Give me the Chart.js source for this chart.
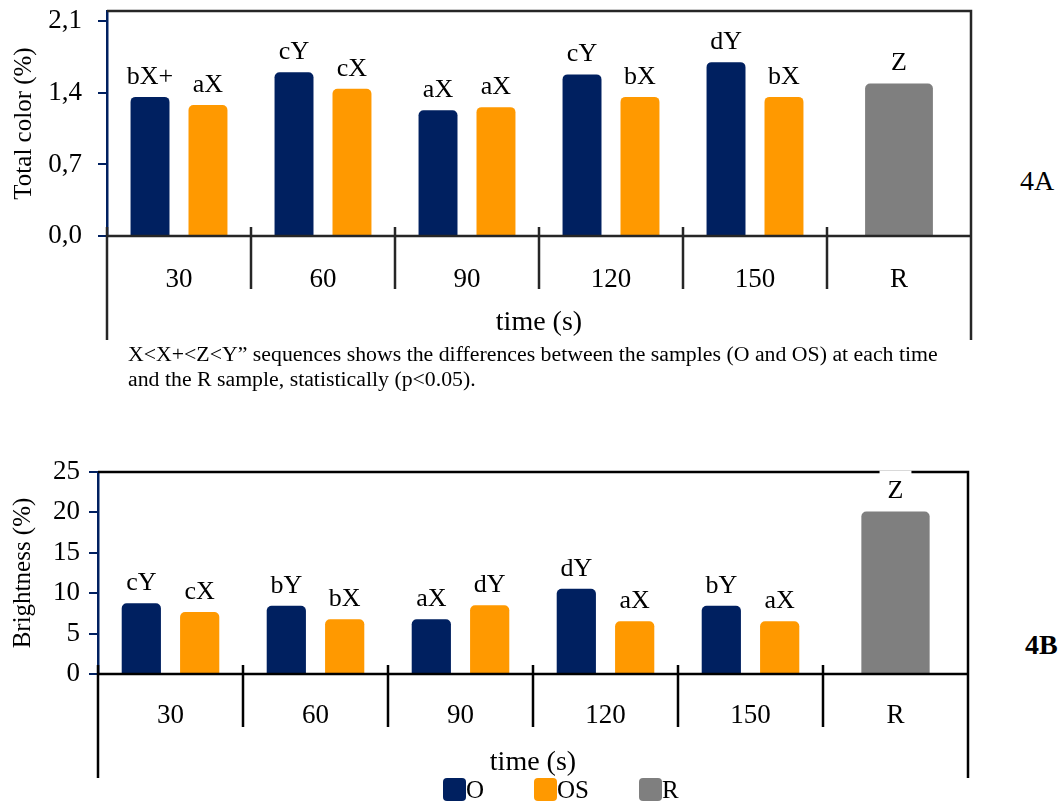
<!DOCTYPE html>
<html>
<head>
<meta charset="utf-8">
<script src="https://cdn.jsdelivr.net/npm/chart.js@4.4.1/dist/chart.umd.min.js"></script>
<style>
  body { margin: 0; background: #fff; width: 1059px; height: 804px; position: relative; overflow: hidden;
         font-family: 'Liberation Serif', 'Times New Roman', serif; color: #000; }
  .quadro { position: absolute; left: 0; width: 1000px; }
  #quadroA { top: 0; height: 345px; }
  #quadroB { top: 460px; height: 344px; }
  .rotulo { position: absolute; font-size: 28px; line-height: 28px; }
  #rotA { left: 1020px; top: 167px; }
  #rotB { left: 1025px; top: 631px; font-weight: bold; }
  #nota { position: absolute; left: 128px; top: 342px; font-size: 20px; line-height: 25px;
          white-space: nowrap; transform: scaleX(1.09); transform-origin: 0 0; }
  #legenda { position: absolute; left: 443px; top: 778px; display: flex; font-size: 25px; line-height: 23px; }
  .item { display: flex; align-items: center; margin-right: 50px; }
  .cor { width: 23px; height: 23px; border-radius: 4px; }
</style>
</head>
<body>
<div class="quadro" id="quadroA"><canvas id="graficoCor" width="1000" height="345"></canvas></div>
<div class="rotulo" id="rotA">4A</div>
<div id="nota">X&lt;X+&lt;Z&lt;Y” sequences shows the differences between the samples (O and OS) at each time<br>and the R sample, statistically (p&lt;0.05).</div>
<div class="quadro" id="quadroB"><canvas id="graficoBrilho" width="1000" height="344"></canvas></div>
<div class="rotulo" id="rotB">4B</div>
<div id="legenda">
  <div class="item"><span class="cor" style="background:#002060"></span>O</div>
  <div class="item"><span class="cor" style="background:#ff9900"></span>OS</div>
  <div class="item"><span class="cor" style="background:#7f7f7f"></span>R</div>
</div>

<script>
const tempos = ['30', '60', '90', '120', '150', 'R'];

// 4A - cor total (%)
const corO  = [1.36, 1.60, 1.23, 1.58, 1.70, null];
const corOS = [1.28, 1.44, 1.26, 1.36, 1.36, null];
const corR  = [null, null, null, null, null, 1.49];
const letrasCorO  = ['bX+', 'cY', 'aX', 'cY', 'dY', ''];
const letrasCorOS = ['aX', 'cX', 'aX', 'bX', 'bX', ''];
const letrasCorR  = ['', '', '', '', '', 'Z'];
const ticksCor = [0, 0.7, 1.4, 2.1];

// 4B - brilho (%)
const brilhoO  = [8.75, 8.45, 6.77, 10.56, 8.45, null];
const brilhoOS = [7.67, 6.77, 8.50, 6.52, 6.52, null];
const brilhoR  = [null, null, null, null, null, 20.1];
const letrasBrilhoO  = ['cY', 'bY', 'aX', 'dY', 'bY', ''];
const letrasBrilhoOS = ['cX', 'bX', 'dY', 'aX', 'aX', ''];
const letrasBrilhoR  = ['', '', '', '', '', 'Z'];

const AZUL = '#002060';
const LARANJA = '#ff9900';
const CINZA = '#7f7f7f';
const FONTE = "'Liberation Serif', 'Times New Roman', serif";

// moldura: eixo x, bordas, divisorias entre tempos e letras acima das barras
const moldura = {
  id: 'moldura',
  afterDraw(chart, args, opts) {
    const ctx = chart.ctx;
    const a = chart.chartArea;
    const x = chart.scales.x;
    const fundo = a.bottom + opts.extensao;
    ctx.save();
    ctx.strokeStyle = opts.cor;
    ctx.lineWidth = 2.5;
    ctx.beginPath();
    // topo e lado direito
    ctx.moveTo(a.left, a.top);
    ctx.lineTo(a.right, a.top);
    ctx.lineTo(a.right, fundo);
    // eixo x
    ctx.moveTo(a.left, a.bottom);
    ctx.lineTo(a.right, a.bottom);
    // prolongamento esquerdo
    ctx.moveTo(a.left, a.bottom - 9);
    ctx.lineTo(a.left, fundo);
    // divisorias entre categorias
    for (let i = 1; i < tempos.length; i++) {
      const px = (x.getPixelForValue(i - 1) + x.getPixelForValue(i)) / 2;
      ctx.moveTo(px, a.bottom - 9);
      ctx.lineTo(px, a.bottom + 53);
    }
    ctx.stroke();

    // letras de significancia
    ctx.font = '26px ' + FONTE;
    ctx.textAlign = 'center';
    ctx.textBaseline = 'middle';
    chart.data.datasets.forEach((ds, i) => {
      chart.getDatasetMeta(i).data.forEach((barra, j) => {
        const txt = ds.letras[j];
        if (!txt) return;
        const ty = barra.y - 20;
        const w = ctx.measureText(txt).width + 16;
        ctx.fillStyle = '#fff';
        ctx.fillRect(barra.x - w / 2, ty - 21, w, 33);
        ctx.fillStyle = '#000';
        ctx.fillText(txt, barra.x, ty);
      });
    });
    ctx.restore();
  }
};

function montarGrafico(canvas, cfg) {
  const conjunto = (rotulo, valores, cor, letras, extra) => Object.assign({
    label: rotulo,
    data: valores,
    letras: letras,
    backgroundColor: cor,
    borderRadius: 5,
    skipNull: true,
    categoryPercentage: 0.805,
    barPercentage: 0.672
  }, extra || {});

  return new Chart(canvas, {
    type: 'bar',
    data: {
      labels: tempos,
      datasets: [
        conjunto('O', cfg.o, AZUL, cfg.letrasO),
        conjunto('OS', cfg.os, LARANJA, cfg.letrasOS),
        conjunto('R', cfg.r, CINZA, cfg.letrasR, { barPercentage: 0.585 })
      ]
    },
    options: {
      responsive: false,
      animation: false,
      layout: { padding: { top: cfg.topo, right: cfg.direita, left: 0, bottom: 0 } },
      plugins: {
        legend: { display: false },
        tooltip: { enabled: false },
        moldura: { cor: cfg.corLinha, extensao: cfg.extensao }
      },
      scales: {
        x: {
          grid: { display: false },
          border: { display: false },
          ticks: { color: '#000', font: { family: FONTE, size: 27 }, padding: cfg.padX },
          title: { display: true, text: 'time (s)', color: '#000',
                   font: { family: FONTE, size: 28 }, padding: { bottom: cfg.padTituloX } },
          afterFit: s => { s.height = cfg.alturaX; s.paddingLeft = 0; s.paddingRight = 0; }
        },
        y: {
          min: 0,
          max: cfg.max,
          afterBuildTicks: cfg.afterBuildTicks,
          grid: { drawOnChartArea: false, drawTicks: true, tickLength: 9, color: AZUL, lineWidth: 2 },
          border: { display: true, color: AZUL, width: 2.5 },
          ticks: { color: '#000', font: { family: FONTE, size: 27 }, padding: cfg.padY,
                   stepSize: cfg.passo, callback: cfg.formato },
          title: { display: true, text: cfg.tituloY, color: '#000',
                   font: { family: FONTE, size: 25 }, padding: { top: cfg.padTituloY } },
          afterFit: s => { s.width = cfg.larguraY; s.paddingTop = 0; s.paddingBottom = 0; }
        }
      }
    },
    plugins: [moldura]
  });
}

montarGrafico(document.getElementById('graficoCor'), {
  o: corO, os: corOS, r: corR,
  letrasO: letrasCorO, letrasOS: letrasCorOS, letrasR: letrasCorR,
  max: 2.2,
  afterBuildTicks: s => { s.ticks = ticksCor.map(v => ({ value: v })); },
  formato: v => v.toFixed(1).replace('.', ','),
  tituloY: 'Total color (%)',
  topo: 11, direita: 29, larguraY: 107, alturaX: 109,
  padX: 20, padTituloX: 6, padY: 16, padTituloY: 9,
  extensao: 104, corLinha: '#262626'
});

montarGrafico(document.getElementById('graficoBrilho'), {
  o: brilhoO, os: brilhoOS, r: brilhoR,
  letrasO: letrasBrilhoO, letrasOS: letrasBrilhoOS, letrasR: letrasBrilhoR,
  max: 25, passo: 5,
  formato: v => v,
  tituloY: 'Brightness (%)',
  topo: 12, direita: 32, larguraY: 98, alturaX: 130,
  padX: 18, padTituloX: 25, padY: 9, padTituloY: 8,
  extensao: 104, corLinha: '#000'
});
</script>
</body>
</html>
